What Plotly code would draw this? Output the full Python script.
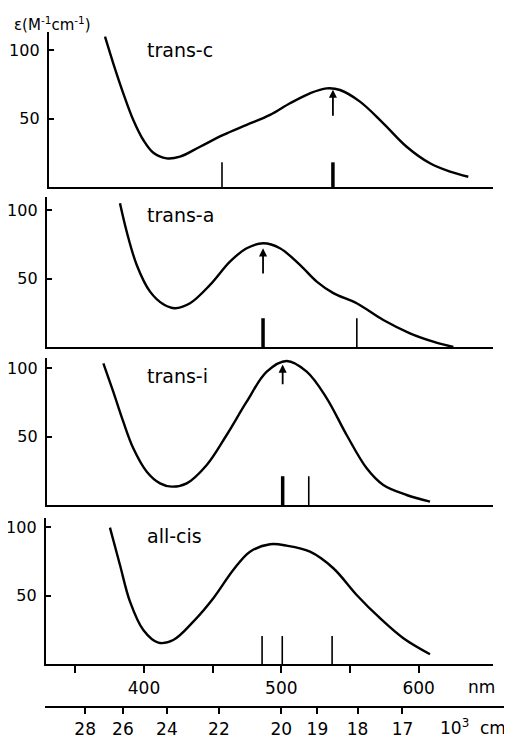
import plotly.graph_objects as go

# ---------------- data ----------------
panel_names = ["trans-c", "trans-a", "trans-i", "all-cis"]

transc_nm = [371.6, 377.6, 384.9, 392.2, 399.5, 406.8, 416.5, 426.2, 440.8, 457.8, 474.8, 491.8, 506.3, 520.9, 533, 542.8, 557.3, 574.3, 591.3, 608.3, 622.9, 636.2]
transc_eps = [109.7, 90.3, 68.4, 48.9, 34.3, 25, 20.9, 22.1, 29.4, 38, 45.3, 52.6, 61.1, 68.4, 72, 70.8, 62.3, 46.5, 29.4, 17.3, 11.2, 7.5]

transa_nm = [382.5, 387.4, 394.7, 404.4, 414.1, 422.6, 433.5, 448.1, 462.6, 474.8, 486.9, 499, 513.6, 525.8, 537.9, 554.9, 574.3, 593.7, 610.7, 625.3]
transa_eps = [104.9, 84.2, 59.9, 40.4, 31.2, 28.3, 31.9, 45.3, 62.3, 72.1, 75.7, 72.1, 59.9, 47.7, 39.3, 31.9, 19.7, 10, 3.9, 0]

transi_nm = [370.4, 377.6, 384.9, 392.2, 402, 411.7, 420.2, 431.1, 445.7, 460.2, 474.8, 489.4, 503.9, 518.5, 533.1, 547.6, 562.2, 574.3, 591.3, 608.3]
transi_eps = [103.4, 82.7, 60.8, 41.4, 24.3, 15.8, 13.4, 15.8, 29.2, 51.1, 75.4, 97.3, 105.1, 97.3, 77.9, 51.1, 26.8, 14.6, 7.3, 2.4]

allcis_nm = [375.2, 382.5, 389.8, 399.5, 410.4, 421.3, 435.9, 450.5, 465, 477.2, 491.8, 503.9, 520.9, 537.9, 554.9, 571.9, 588.9, 608.3]
allcis_eps = [99.5, 72.3, 45.5, 24.8, 15.6, 17.5, 30.9, 48, 68.6, 82, 87.4, 86.4, 82, 69.9, 50.4, 33.4, 18.8, 7.1]

# stick positions (nm), heights, and thick flag
stick_nm = [[456.8, 537.6], [486.7, 555], [501, 520], [486, 500.7, 537]]
stick_h = [[18, 18], [21, 21], [21, 21], [20.4, 20.4, 20.4]]
stick_thick = [[False, True], [True, False], [True, False], [False, False, False]]

# arrows: (nm, tail, head) per panel (None = no arrow)
arrow_nm = [537.6, 486.7, 501, None]
arrow_tail = [51, 52.5, 87, None]
arrow_head = [71, 72, 102.5, None]

nm_ticks = [350, 400, 450, 500, 550, 600]
nm_ticklabels = ["", "400", "", "500", "", "600"]
wn_ticks = [28, 26, 24, 22, 20, 19, 18, 17]  # 10^3 cm^-1

# ---------------- geometry (page pixels) ----------------
PAGE_W, PAGE_H = 512, 738
OFF = 8                       # default body margin of the html page
W, H = PAGE_W - OFF, PAGE_H - OFF
PX400, PXNM = 144, 1.373      # page pixel of 400 nm, pixels per nm
PXY = 1.37                    # pixels per epsilon unit
panels_px = [(49, 187, 32), (47, 347, 197), (47, 505, 358), (46, 664, 518)]
XR = 493

def nm_at(px):
    return 400 + (px - PX400) / PXNM

def fx(px):
    return (px - OFF) / W

def fy(py):
    return 1 - (py - OFF) / H

curves = [(transc_nm, transc_eps), (transa_nm, transa_eps), (transi_nm, transi_eps), (allcis_nm, allcis_eps)]

FONT = "DejaVu Sans"
fig = go.Figure()
layout = {}
for i in range(4):
    n = i + 1
    xa = "x" if n == 1 else f"x{n}"
    ya = "y" if n == 1 else f"y{n}"
    x0, yb, yt = panels_px[i]
    cx, cy = curves[i]
    fig.add_trace(go.Scatter(x=cx, y=cy, mode="lines", xaxis=xa, yaxis=ya,
                             line=dict(color="black", width=2.4, shape="spline", smoothing=1.0),
                             showlegend=False, hoverinfo="skip", cliponaxis=False))
    for k, sx in enumerate(stick_nm[i]):
        fig.add_trace(go.Scatter(x=[sx, sx], y=[0, stick_h[i][k]], mode="lines", xaxis=xa, yaxis=ya,
                                 line=dict(color="black", width=3.5 if stick_thick[i][k] else 1.6),
                                 showlegend=False, hoverinfo="skip"))
    if arrow_nm[i] is not None:
        fig.add_annotation(x=arrow_nm[i], y=arrow_head[i], ax=arrow_nm[i], ay=arrow_tail[i],
                           xref=xa, yref=ya, axref=xa, ayref=ya, text="", showarrow=True,
                           arrowhead=2, arrowsize=0.9, arrowwidth=1.8, arrowcolor="black")
    fig.add_annotation(x=nm_at(145), y=(yb - (yt + 18)) / PXY, xref=xa, yref=ya, text=panel_names[i],
                       showarrow=False, xanchor="left", yanchor="middle",
                       font=dict(family=FONT, size=19, color="black"))
    last = (n == 4)
    layout[("xaxis" if n == 1 else f"xaxis{n}")] = dict(
        domain=[fx(x0), fx(XR)], range=[nm_at(x0), nm_at(XR)], anchor=ya, automargin=False,
        showline=True, linecolor="black", linewidth=2.4, showgrid=False, zeroline=False,
        ticks="outside" if last else "", ticklen=7, tickwidth=2, tickcolor="black",
        tickvals=nm_ticks if last else [], ticktext=nm_ticklabels if last else [],
        showticklabels=last, tickfont=dict(family=FONT, size=17, color="black"))
    layout[("yaxis" if n == 1 else f"yaxis{n}")] = dict(
        domain=[fy(yb), fy(yt)], range=[0, (yb - yt) / PXY], anchor=xa, automargin=False,
        showline=True, linecolor="black", linewidth=2.4, showgrid=False, zeroline=False,
        ticks="inside", ticklen=5, tickwidth=2, tickcolor="black",
        tickvals=[50, 100], ticktext=["50", "100"], ticklabelstandoff=4,
        tickfont=dict(family=FONT, size=16, color="black"))

# wavenumber axis (positions in nm = 1e7 / cm^-1)
wn_pos = [1e4 / w for w in wn_ticks]
fig.add_trace(go.Scatter(x=wn_pos, y=[None] * len(wn_pos), mode="lines", xaxis="x5", yaxis="y5",
                         showlegend=False, hoverinfo="skip"))
layout["xaxis5"] = dict(domain=[fx(45), 1.0], range=[nm_at(45), nm_at(PAGE_W)], anchor="y5", automargin=False,
                        showline=True, linecolor="black", linewidth=2.4, showgrid=False, zeroline=False,
                        ticks="outside", ticklen=6, tickwidth=2, tickcolor="black",
                        tickvals=wn_pos, ticktext=[str(w) for w in wn_ticks],
                        tickfont=dict(family=FONT, size=17, color="black"))
layout["yaxis5"] = dict(domain=[fy(706), fy(700)], range=[0, 1], anchor="x5", visible=False,
                        automargin=False)

fig.add_annotation(x=fx(12), y=fy(24), xref="paper", yref="paper", xanchor="left", yanchor="middle",
                   text="ε(M<sup>-1</sup>cm<sup>-1</sup>)", showarrow=False,
                   font=dict(family=FONT, size=15, color="black"))
fig.add_annotation(x=fx(466), y=fy(687), xref="paper", yref="paper", xanchor="left", yanchor="middle",
                   text="nm", showarrow=False, font=dict(family=FONT, size=17, color="black"))
fig.add_annotation(x=fx(438), y=fy(727), xref="paper", yref="paper", xanchor="left", yanchor="middle",
                   text="10<sup>3</sup>  cm<sup>-1</sup>", showarrow=False,
                   font=dict(family=FONT, size=17, color="black"))

fig.update_layout(width=W, height=H, margin=dict(l=0, r=0, t=0, b=0, autoexpand=False),
                  paper_bgcolor="white", plot_bgcolor="white", showlegend=False, **layout)
fig.write_html("out.html")
